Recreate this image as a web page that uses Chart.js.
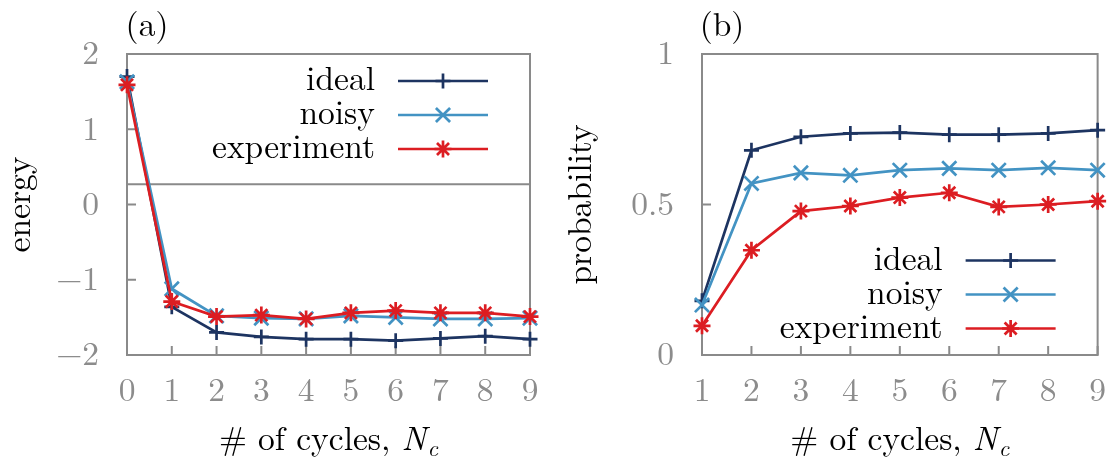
<!DOCTYPE html>
<html><head><meta charset="utf-8">
<script src="https://cdn.jsdelivr.net/npm/chart.js@4/dist/chart.umd.min.js"></script>
<style>
html,body{margin:0;padding:0;background:#fff;}
#wrap{position:relative;width:1114px;height:461px;overflow:hidden;}
.box{position:absolute;top:0;width:557px;height:461px;}
</style></head><body>
<div id="wrap">
<div class="box" style="left:0"><canvas id="ca" width="557" height="461"></canvas></div>
<div class="box" style="left:557px"><canvas id="cb" width="557" height="461"></canvas></div>
</div>
<script>
// ---- data ----
const cyclesA = [0, 1, 2, 3, 4, 5, 6, 7, 8, 9];
const energyIdeal = [1.70, -1.36, -1.70, -1.76, -1.79, -1.79, -1.81, -1.78, -1.75, -1.79];
const energyNoisy = [1.63, -1.12, -1.48, -1.51, -1.52, -1.48, -1.50, -1.52, -1.52, -1.51];
const energyExperiment = [1.59, -1.29, -1.49, -1.47, -1.52, -1.44, -1.41, -1.44, -1.44, -1.49];
const energyReference = 0.27;
const cyclesB = [1, 2, 3, 4, 5, 6, 7, 8, 9];
const probIdeal = [0.18, 0.68, 0.725, 0.736, 0.739, 0.732, 0.732, 0.736, 0.747];
const probNoisy = [0.166, 0.57, 0.605, 0.597, 0.614, 0.62, 0.614, 0.622, 0.614];
const probExperiment = [0.097, 0.348, 0.478, 0.495, 0.523, 0.539, 0.492, 0.50, 0.511];
const energyTicks = [-2, -1, 0, 1, 2];
const probTicks = [0, 0.5, 1];
const seriesNames = ['ideal', 'noisy', 'experiment'];
const axisTitleX = '# of cycles, ';
const axisTitleXVar = 'N';
const axisTitleXSub = 'c';

// ---- styles ----
const FONT = "Latin Modern Roman";
const FS = 33.5;
const GRAY = '#8a8a8a';
const TICKGRAY = '#8c8c8c';
const COLORS = ['#1d3461', '#4393c3', '#dc1d22'];
const STYLES = ['cross', 'crossRot', 'star'];
const RADII = [7.5, 10, 8.5];
const LW = 2.7;

function toXY(xs, ys) { return xs.map((x, i) => ({x: x, y: ys[i]})); }
function fmt(v) { return v < 0 ? '\u2212' + Math.abs(v) : String(v); }

function seriesDatasets(xs, arrs) {
  return arrs.map((ys, i) => ({
    label: seriesNames[i],
    data: toXY(xs, ys),
    borderColor: COLORS[i],
    backgroundColor: COLORS[i],
    pointBorderColor: COLORS[i],
    borderWidth: LW,
    pointStyle: STYLES[i],
    pointRadius: RADII[i],
    pointBorderWidth: LW,
    tension: 0,
    clip: false,
    order: 3 - i
  }));
}

const boxPlugin = {
  id: 'boxTicks',
  beforeDatasetsDraw(chart) {
    const {ctx, chartArea: a} = chart;
    const x = chart.scales.x, y = chart.scales.y;
    ctx.save();
    ctx.strokeStyle = GRAY; ctx.lineWidth = 2;
    ctx.strokeRect(a.left, a.top, a.right - a.left, a.bottom - a.top);
    ctx.beginPath();
    x.ticks.forEach(t => { const px = x.getPixelForValue(t.value); ctx.moveTo(px, a.bottom); ctx.lineTo(px, a.bottom - 9); });
    y.ticks.forEach(t => { const py = y.getPixelForValue(t.value); ctx.moveTo(a.left, py); ctx.lineTo(a.left + 9, py); });
    ctx.stroke();
    ctx.restore();
  }
};

function legendPlugin(anchor) {
  return {
    id: 'sideLegend',
    afterDatasetsDraw(chart) {
      const {ctx, chartArea: a} = chart;
      const sets = chart.data.datasets.filter(d => seriesNames.includes(d.label));
      const lineEnd = a.right - 42, lineStart = lineEnd - 90, textRight = lineStart - 23;
      const firstY = anchor === 'top' ? a.top + 27 : a.bottom - 26.5 - 34 * (sets.length - 1);
      ctx.save();
      sets.forEach((d, i) => {
        const yy = firstY + 34 * i;
        ctx.font = FS + 'px ' + FONT;
        ctx.fillStyle = '#000';
        ctx.textAlign = 'right';
        ctx.textBaseline = 'alphabetic';
        ctx.fillText(d.label, textRight, yy + 9);
        ctx.strokeStyle = d.borderColor;
        ctx.lineWidth = LW;
        ctx.beginPath(); ctx.moveTo(lineStart, yy); ctx.lineTo(lineEnd, yy); ctx.stroke();
        Chart.helpers.drawPoint(ctx, {pointStyle: d.pointStyle, radius: d.pointRadius, borderWidth: LW, rotation: 0}, (lineStart + lineEnd) / 2, yy);
      });
      ctx.restore();
    }
  };
}

function titlePlugin(panel) {
  return {
    id: 'titles',
    afterDraw(chart) {
      const {ctx, chartArea: a} = chart;
      ctx.save();
      ctx.fillStyle = '#000';
      ctx.font = FS + 'px ' + FONT;
      ctx.textAlign = 'center'; ctx.textBaseline = 'middle';
      ctx.fillText(panel, a.left + 20, 26);
      ctx.textAlign = 'left'; ctx.textBaseline = 'alphabetic';
      const fN = FS + 'px ' + FONT, fI = 'italic ' + FS + 'px ' + FONT, fS = 'italic ' + Math.round(FS * 0.7) + 'px ' + FONT;
      ctx.font = fN; const w1 = ctx.measureText(axisTitleX).width;
      ctx.font = fI; const w2 = ctx.measureText(axisTitleXVar).width;
      ctx.font = fS; const w3 = ctx.measureText(axisTitleXSub).width;
      let x0 = (a.left + a.right) / 2 - (w1 + w2 + w3 + 1) / 2;
      const base = 450;
      ctx.font = fN; ctx.fillText(axisTitleX, x0, base); x0 += w1;
      ctx.font = fI; ctx.fillText(axisTitleXVar, x0, base); x0 += w2 + 1;
      ctx.font = fS; ctx.fillText(axisTitleXSub, x0, base + 6);
      ctx.restore();
    }
  };
}

function makeOptions(cfg) {
  return {
    responsive: false,
    animation: false,
    events: [],
    layout: {padding: {left: 0, right: cfg.padRight, top: 54, bottom: 0}},
    plugins: {legend: {display: false}, tooltip: {enabled: false}},
    scales: {
      x: {
        type: 'linear', min: cfg.xmin, max: cfg.xmax,
        grid: {display: false}, border: {display: false},
        afterBuildTicks: s => { s.ticks = cfg.xs.map(v => ({value: v})); },
        afterFit: s => { s.height = 106; },
        ticks: {autoSkip: false, maxRotation: 0, padding: 8, color: TICKGRAY, font: {family: FONT, size: FS}, callback: v => fmt(v)}
      },
      y: {
        type: 'linear', min: cfg.ymin, max: cfg.ymax,
        grid: {display: false}, border: {display: false},
        afterBuildTicks: s => { s.ticks = cfg.yticks.map(v => ({value: v})); },
        afterFit: s => { s.width = cfg.yWidth; },
        ticks: {autoSkip: false, padding: 20, color: TICKGRAY, font: {family: FONT, size: FS}, callback: v => fmt(v)},
        title: {display: true, text: cfg.ytitle, color: '#000', font: {family: FONT, size: FS}, padding: {top: cfg.titlePad, bottom: 0}}
      }
    }
  };
}

const dsA = seriesDatasets(cyclesA, [energyIdeal, energyNoisy, energyExperiment]);
dsA.push({
  label: 'reference',
  data: [{x: cyclesA[0], y: energyReference}, {x: cyclesA[cyclesA.length - 1], y: energyReference}],
  borderColor: GRAY, borderWidth: 2, pointRadius: 0, order: 10, clip: false
});

new Chart(document.getElementById('ca'), {
  type: 'line',
  data: {datasets: dsA},
  options: makeOptions({padRight: 27, xmin: 0, xmax: 9, xs: cyclesA, ymin: -2, ymax: 2, yticks: energyTicks, yWidth: 127, ytitle: 'energy', titlePad: 0}),
  plugins: [boxPlugin, legendPlugin('top'), titlePlugin('(a)')]
});

new Chart(document.getElementById('cb'), {
  type: 'line',
  data: {datasets: seriesDatasets(cyclesB, [probIdeal, probNoisy, probExperiment])},
  options: makeOptions({padRight: 9, xmin: 1, xmax: 9, xs: cyclesB, ymin: 0, ymax: 1, yticks: probTicks, yWidth: 145, ytitle: 'probability', titlePad: 4}),
  plugins: [boxPlugin, legendPlugin('bottom'), titlePlugin('(b)')]
});
</script>
</body></html>
